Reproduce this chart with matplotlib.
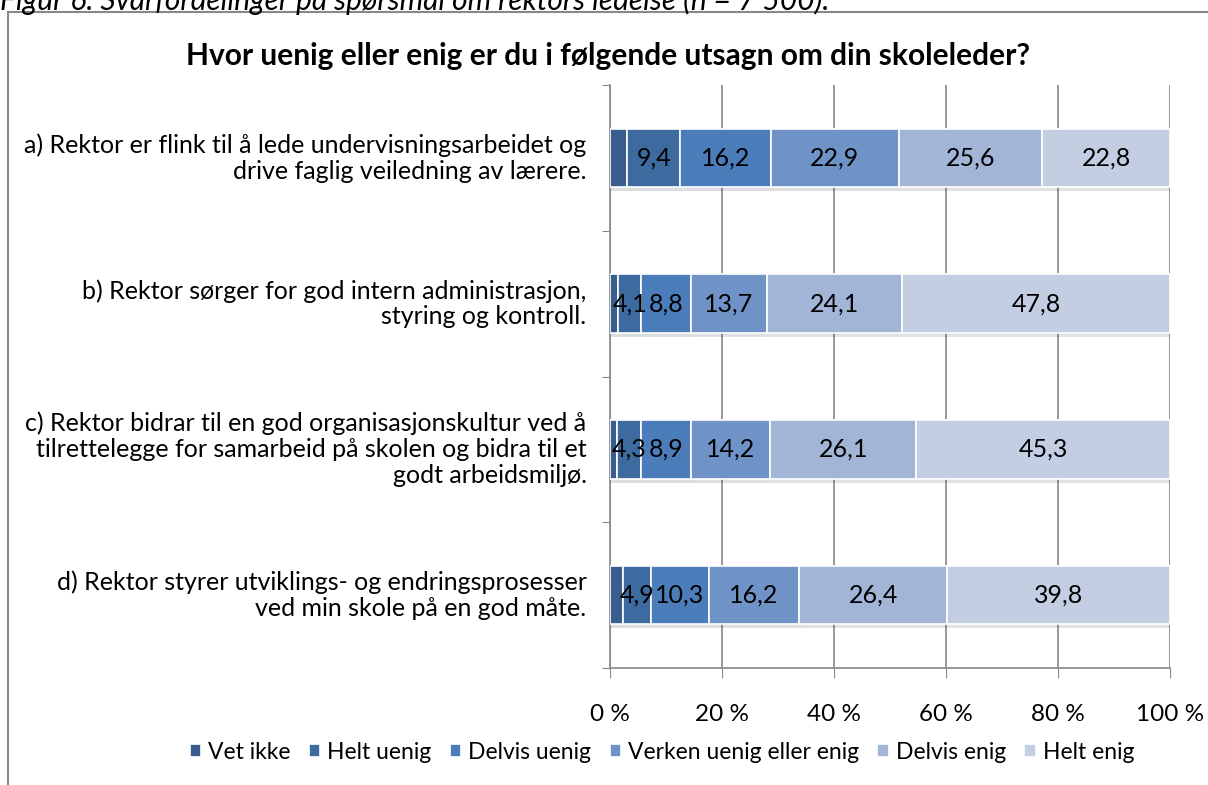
import matplotlib.pyplot as plt
import matplotlib.patheffects as pe
from matplotlib.lines import Line2D
import numpy as np

plt.rcParams['font.family'] = ['Lato', 'DejaVu Sans']

# data
questions = [
    'a) Rektor er flink til å lede undervisningsarbeidet og\ndrive faglig veiledning av lærere.',
    'b) Rektor sørger for god intern administrasjon,\nstyring og kontroll.',
    'c) Rektor bidrar til en god organisasjonskultur ved å\ntilrettelegge for samarbeid på skolen og bidra til et\ngodt arbeidsmiljø.',
    'd) Rektor styrer utviklings- og endringsprosesser\nved min skole på en god måte.',
]
categories = ['Vet ikke', 'Helt uenig', 'Delvis uenig', 'Verken uenig eller enig',
              'Delvis enig', 'Helt enig']
vet_ikke = [3.1, 1.5, 1.2, 2.4]
helt_uenig = [9.4, 4.1, 4.3, 4.9]
delvis_uenig = [16.2, 8.8, 8.9, 10.3]
verken = [22.9, 13.7, 14.2, 16.2]
delvis_enig = [25.6, 24.1, 26.1, 26.4]
helt_enig = [22.8, 47.8, 45.3, 39.8]
xticks = [0, 20, 40, 60, 80, 100]

series = [vet_ikke, helt_uenig, delvis_uenig, verken, delvis_enig, helt_enig]
colors = ['#395e8e', '#3d6a9f', '#4a7dba', '#7093c7', '#a2b5d7', '#c3cee3']
show_label = [False, True, True, True, True, True]

fig = plt.figure(figsize=(12.08, 7.85), dpi=100)
ax = fig.add_axes([0.505, 0.149, 0.4635, 0.7427])

y = np.arange(len(questions))
left = np.zeros(len(questions))
for vals, col, lab, show in zip(series, colors, categories, show_label):
    vals = np.array(vals)
    bars = ax.barh(y, vals, left=left, height=0.4, color=col, edgecolor='white',
                   linewidth=1.2, label=lab, zorder=3)
    for b in bars:
        b.set_path_effects([pe.SimplePatchShadow(offset=(1, -3), alpha=0.15),
                            pe.Normal()])
    if show:
        for yi, l, v in zip(y, left, vals):
            ax.text(l + v / 2, yi, f'{v:.1f}'.replace('.', ','), ha='center',
                    va='center', fontsize=18, zorder=4)
    left += vals

ax.set_xlim(0, 100)
ax.set_ylim(3.5, -0.5)
ax.set_xticks(xticks)
ax.set_xticklabels([f'{t} %' for t in xticks], fontsize=17.5)
ax.set_yticks(np.arange(-0.5, 4, 1))
ax.set_yticklabels([])
ax.tick_params(axis='x', direction='out', length=7, color='#888888', pad=19)
ax.tick_params(axis='y', direction='out', length=6, color='#888888')
ax.grid(axis='x', color='#888888', linewidth=1.2, zorder=0)
for s in ['top', 'right']:
    ax.spines[s].set_visible(False)
for s in ['left', 'bottom']:
    ax.spines[s].set_color('#888888')
    ax.spines[s].set_linewidth(1.2)

for yi, q in zip(y, questions):
    ax.text(-0.042, yi, q, transform=ax.get_yaxis_transform(), ha='right',
            va='center', fontsize=18, multialignment='right', linespacing=1.15)

fig.text(0.503, 0.929, 'Hvor uenig eller enig er du i følgende utsagn om din skoleleder?',
         ha='center', va='center', fontsize=21.5, fontweight='bold')

leg = fig.legend(loc='center', bbox_to_anchor=(0.548, 0.042), ncol=6, frameon=False,
                 fontsize=16.5, handlelength=0.5, handleheight=0.5, handletextpad=0.3,
                 columnspacing=0.8)
for h in leg.legend_handles:
    h.set_path_effects([])

# caption (cut off at top) and frame
fig.text(0.0, 1.0, 'Figur 6. Svarfordelinger på spørsmål om rektors ledelse (n = 7 500).',
         ha='left', va='center', fontsize=21.5, style='italic')
fig.add_artist(Line2D([8 / 1208, 1.0], [1 - 12 / 785, 1 - 12 / 785],
                      color='#888888', linewidth=1.5))
fig.add_artist(Line2D([8 / 1208, 8 / 1208], [1 - 12 / 785, 0.0],
                      color='#888888', linewidth=1.5))

fig.savefig('out.png', dpi=100)
